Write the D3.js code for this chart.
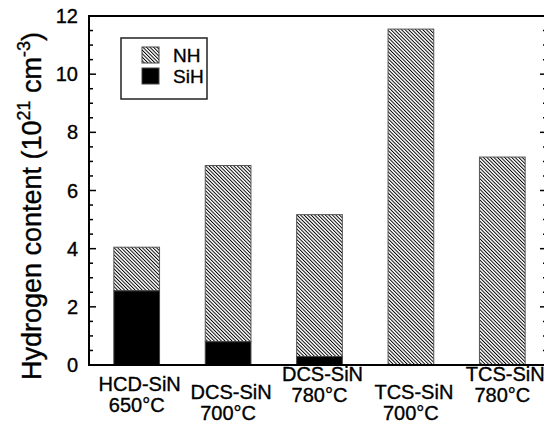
<!DOCTYPE html>
<html>
<head>
<meta charset="utf-8">
<script src="https://cdn.jsdelivr.net/npm/d3@7/dist/d3.min.js"></script>
<style>
	body{ margin:0; background:white; }
	svg text{ font-family: "Liberation Sans", Arial, Helvetica, sans-serif; fill:black; stroke:black; stroke-width:0.35px; }
</style>
</head>
<body>
<svg id="chart" width="544" height="431"></svg>
<script>
var samples=["HCD-SiN","DCS-SiN","DCS-SiN","TCS-SiN","TCS-SiN"]
var temps=["650°C","700°C","780°C","700°C","780°C"]
var sihValues=[2.55,0.8,0.29,0,0]
var nhValues=[1.5,6.06,4.88,11.55,7.15]
var yTicks=[0,2,4,6,8,10,12]
var legendNames=["NH","SiH"]

var svg=d3.select('#chart')
var plotLeft=89, plotRight=546, plotTop=16, plotBottom=365

var ids=samples.map(function(d,i){ return i })
var x=d3.scaleBand().domain(ids).range([plotLeft+2,plotRight+2]).paddingInner(0.5).paddingOuter(0.25)
var y=d3.scaleLinear().domain([0,12]).range([plotBottom,plotTop])

// hatch for NH
var defs=svg.append("defs")
defs.append("pattern")
	.attr("id","hatch")
	.attr("patternUnits","userSpaceOnUse")
	.attr("width",2.5)
	.attr("height",10)
	.attr("patternTransform","rotate(-45)")
	.append("rect")
	.attr("x",0)
	.attr("y",0)
	.attr("width",0.95)
	.attr("height",10)
	.attr("fill","black")

var stacked=ids.map(function(i){
	return {i:i, sih:sihValues[i], nh:nhValues[i]}
})

var bars=svg.append("g")
bars.selectAll('rect.nh')
	.data(stacked)
	.enter()
	.append('rect')
	.attr("class","nh")
	.attr("x",function(d){ return x(d.i) })
	.attr("y",function(d){ return y(d.sih+d.nh) })
	.attr("width",x.bandwidth())
	.attr("height",function(d){ return y(d.sih)-y(d.sih+d.nh) })
	.attr("fill","url(#hatch)")
	.style("stroke","#555")
	.style("stroke-width",1)

bars.selectAll('rect.sih')
	.data(stacked.filter(function(d){ return d.sih>0 }))
	.enter()
	.append('rect')
	.attr("class","sih")
	.attr("x",function(d){ return x(d.i) })
	.attr("y",function(d){ return y(d.sih) })
	.attr("width",x.bandwidth())
	.attr("height",function(d){ return y(0)-y(d.sih) })
	.attr("fill","black")
	.style("stroke","#444")
	.style("stroke-width",1)

// frame
var minor=d3.range(0,12.01,0.5)
svg.append("line").attr("x1",plotLeft).attr("x2",plotLeft).attr("y1",plotTop-1).attr("y2",plotBottom+1)
	.style("stroke","black").style("stroke-width",2)
svg.append("line").attr("x1",plotLeft).attr("x2",plotRight).attr("y1",plotTop).attr("y2",plotTop)
	.style("stroke","black").style("stroke-width",2)
svg.append("line").attr("x1",plotLeft).attr("x2",plotRight).attr("y1",plotBottom).attr("y2",plotBottom)
	.style("stroke","black").style("stroke-width",2)

var ticks=svg.append("g")
ticks.selectAll('line.l')
	.data(minor)
	.enter()
	.append("line")
	.attr("x1",plotLeft)
	.attr("x2",function(d){ return plotLeft+(d%2==0?7:4) })
	.attr("y1",function(d){ return y(d) })
	.attr("y2",function(d){ return y(d) })
	.style("stroke","black")
	.style("stroke-width",1.5)
ticks.selectAll('line.r')
	.data(minor)
	.enter()
	.append("line")
	.attr("x1",plotRight)
	.attr("x2",function(d){ return plotRight-(d%2==0?6:3) })
	.attr("y1",function(d){ return y(d) })
	.attr("y2",function(d){ return y(d) })
	.style("stroke","black")
	.style("stroke-width",1.5)

svg.append("g").selectAll('text')
	.data(yTicks)
	.enter()
	.append("text")
	.attr("x",plotLeft-11)
	.attr("y",function(d){ return y(d)+7 })
	.attr("text-anchor","end")
	.style("font-size","20px")
	.text(function(d){ return d })

// category labels, staggered like the original
var labelBase=[391,399,381,399,381]
var labels=svg.append("g").selectAll('text')
	.data(ids)
	.enter()
	.append("text")
	.attr("text-anchor","middle")
	.style("font-size","20px")
labels.append("tspan")
	.attr("x",function(d){ return x(d)+x.bandwidth()/2+3 })
	.attr("y",function(d){ return labelBase[d] })
	.text(function(d){ return samples[d] })
labels.append("tspan")
	.attr("x",function(d){ return x(d)+x.bandwidth()/2 })
	.attr("y",function(d){ return labelBase[d]+21 })
	.text(function(d){ return temps[d] })

// y title
var title=svg.append("text")
	.attr("transform","translate(41,206) rotate(-90)")
	.attr("text-anchor","middle")
	.style("font-size","27px")
title.append("tspan").text("Hydrogen content (10")
title.append("tspan").attr("dy",-11).style("font-size","18px").text("21")
title.append("tspan").attr("dy",11).text(" cm")
title.append("tspan").attr("dy",-11).style("font-size","18px").text("-3")
title.append("tspan").attr("dy",11).text(")")

// legend
var legend=svg.append("g")
legend.append("rect")
	.attr("x",121).attr("y",38).attr("width",86).attr("height",61)
	.attr("fill","white")
	.style("stroke","#222").style("stroke-width",1.5)
var items=legend.selectAll('g')
	.data(legendNames)
	.enter()
	.append("g")
	.attr("transform",function(d,i){ return "translate(142,"+(47+i*21)+")" })
items.append("rect")
	.attr("width",17).attr("height",16)
	.attr("fill",function(d,i){ return i==0?"url(#hatch)":"black" })
	.style("stroke","#444").style("stroke-width",1)
items.append("text")
	.attr("x",31).attr("y",15)
	.style("font-size","19px")
	.text(function(d){ return d })
</script>
</body>
</html>
